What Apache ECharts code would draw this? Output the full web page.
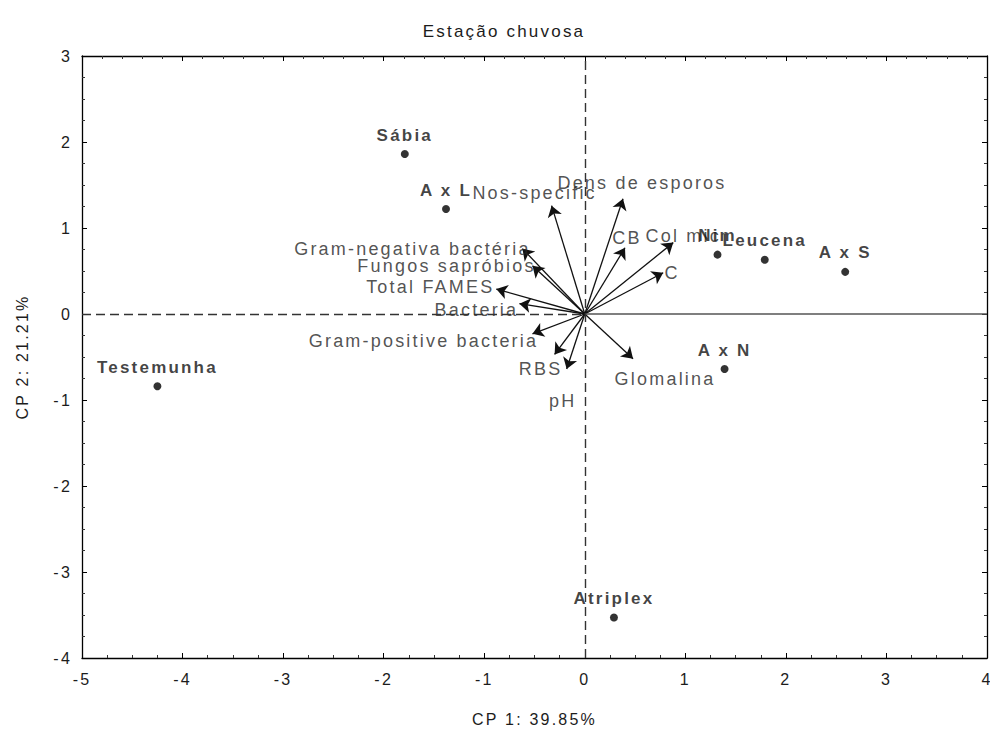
<!DOCTYPE html>
<html>
<head>
<meta charset="utf-8">
<script src="https://cdn.jsdelivr.net/npm/echarts@6/dist/echarts.min.js"></script>
<style>
  html, body { margin: 0; padding: 0; background: #fff; }
  #chart { width: 990px; height: 736px; }
  #chart text { letter-spacing: 2.2px; }
</style>
</head>
<body>
<div id="chart"></div>
<script>
// Treatment scores on the first two principal components
const siteNames = ['Sábia', 'A x L', 'Nim', 'Leucena', 'A x S', 'A x N', 'Testemunha', 'Atriplex'];
const siteCp1 = [-1.79, -1.38, 1.32, 1.79, 2.59, 1.39, -4.25, 0.29];
const siteCp2 = [1.86, 1.22, 0.69, 0.63, 0.49, -0.64, -0.84, -3.53];

// Variable loadings (arrow tips)
const varNames = ['Nos-specific', 'Dens de esporos', 'CB', 'Col mic', 'C',
  'Gram-negativa bactéria', 'Fungos sapróbios', 'Total FAMES', 'Bacteria',
  'Gram-positive bacteria', 'RBS', 'pH', 'Glomalina'];
const varCp1 = [-0.33, 0.38, 0.40, 0.88, 0.78, -0.62, -0.52, -0.88, -0.65, -0.52, -0.30, -0.18, 0.48];
const varCp2 = [1.26, 1.34, 0.77, 0.83, 0.48, 0.76, 0.56, 0.29, 0.12, -0.23, -0.47, -0.64, -0.52];

// Axis ranges
const xRange = [-5, 4];
const yRange = [-4, 3];

// Pixel offsets of the variable labels relative to their arrow tips
const varLabelOffset = [[-17, -13], [19, -16], [2, -10], [10, -7], [9, 0],
  [-110, 0], [-86, 0], [-66, -2], [-43, 6], [-109, 7], [-14, 15], [-4, 32], [32, 20]];

const FONT = 'Liberation Sans, Arial, sans-serif';
const INK = '#1c1c1c';

const chart = echarts.init(document.getElementById('chart'), null, { renderer: 'svg' });

function frameAxis(extra) {
  return Object.assign({
    type: 'value',
    interval: 1,
    axisLine: { show: true, onZero: false, lineStyle: { color: '#000', width: 1.3 } },
    axisTick: { show: true, inside: true, length: 5, lineStyle: { color: '#000' } },
    minorTick: { show: true, splitNumber: 4, length: 3, lineStyle: { color: '#333' } },
    splitLine: { show: false },
    axisLabel: { show: false }
  }, extra);
}

const labelStyle = { fontFamily: FONT, fontSize: 16, color: INK };

chart.setOption({
  backgroundColor: '#fff',
  animation: false,
  title: {
    text: 'Estação chuvosa',
    left: 499,
    top: 18,
    textAlign: 'center',
    textStyle: { fontFamily: FONT, fontSize: 17, fontWeight: 'normal', color: INK }
  },
  grid: { left: 82, right: 3, top: 56, bottom: 78, containLabel: false, outerBoundsMode: 'none' },
  xAxis: [
    frameAxis({
      position: 'bottom', min: xRange[0], max: xRange[1],
      axisLabel: Object.assign({ show: true, margin: 13 }, labelStyle),
      name: 'CP 1: 39.85%', nameLocation: 'middle', nameGap: 53,
      nameTextStyle: labelStyle
    }),
    frameAxis({
      position: 'top', min: xRange[0], max: xRange[1],
      minorTick: { show: true, splitNumber: 5, length: 3, lineStyle: { color: '#333' } }
    })
  ],
  yAxis: [
    frameAxis({
      position: 'left', min: yRange[0], max: yRange[1],
      axisLabel: Object.assign({ show: true, margin: 10 }, labelStyle),
      name: 'CP 2: 21.21%', nameLocation: 'middle', nameGap: 52, nameRotate: 90,
      nameTextStyle: labelStyle
    }),
    frameAxis({ position: 'right', min: yRange[0], max: yRange[1] })
  ],
  series: [
    {
      // Origin reference lines
      type: 'scatter',
      data: [],
      silent: true,
      markLine: {
        silent: true,
        symbol: 'none',
        label: { show: false },
        animation: false,
        data: [
          [{ coord: [xRange[0], 0], lineStyle: { type: [9, 5], color: '#333', width: 1.4 } },
           { coord: [0, 0] }],
          [{ coord: [0, 0], lineStyle: { type: 'solid', color: '#555', width: 1.6 } },
           { coord: [xRange[1], 0] }],
          [{ coord: [0, yRange[0]], lineStyle: { type: [9, 5], color: '#333', width: 1.4 } },
           { coord: [0, yRange[1]] }]
        ]
      }
    },
    {
      // Loading vectors
      type: 'lines',
      coordinateSystem: 'cartesian2d',
      xAxisIndex: 0,
      yAxisIndex: 0,
      symbol: ['none', 'arrow'],
      symbolSize: [0, 11],
      silent: true,
      lineStyle: { color: '#111', width: 1.3, opacity: 1 },
      data: varNames.map((n, i) => ({ name: n, coords: [[0, 0], [varCp1[i], varCp2[i]]] }))
    },
    {
      // Loading vector labels
      type: 'scatter',
      xAxisIndex: 0,
      yAxisIndex: 0,
      symbolSize: 0,
      silent: true,
      label: {
        show: true,
        position: 'inside',
        formatter: p => p.name,
        fontFamily: FONT,
        fontSize: 18,
        color: '#262626'
      },
      data: varNames.map((n, i) => ({
        name: n,
        value: [varCp1[i], varCp2[i]],
        label: { offset: varLabelOffset[i] }
      }))
    },
    {
      // Treatment scores
      type: 'scatter',
      xAxisIndex: 0,
      yAxisIndex: 0,
      symbol: 'circle',
      symbolSize: 8,
      silent: true,
      itemStyle: { color: '#000' },
      label: {
        show: true,
        position: 'inside',
        offset: [0, -19],
        formatter: p => p.name,
        fontFamily: FONT,
        fontSize: 17,
        fontWeight: 'bold',
        color: '#111'
      },
      data: siteNames.map((n, i) => ({ name: n, value: [siteCp1[i], siteCp2[i]] }))
    }
  ]
});
</script>
</body>
</html>
